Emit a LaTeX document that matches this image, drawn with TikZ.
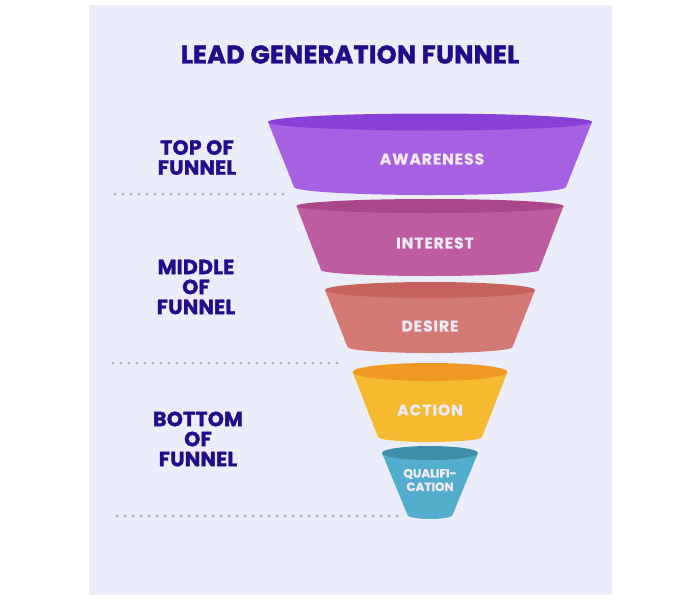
\documentclass[tikz,border=0pt]{standalone}
\usepackage{fontspec}
\usepackage{tikz}
\newfontfamily\headfont{Poppins}[LetterSpace=1,BoldFeatures={FakeBold=1.4}]
\newfontfamily\segfont{Poppins}[LetterSpace=6,BoldFeatures={FakeBold=1}]
\newfontfamily\smallsegfont{Poppins}[LetterSpace=0,BoldFeatures={FakeBold=1}]
\definecolor{panel}{RGB}{235,237,250}
\definecolor{navy}{RGB}{35,12,140}
\definecolor{segtext}{RGB}{242,234,248}
\definecolor{dotgray}{RGB}{172,175,188}
\definecolor{awareA}{RGB}{166,97,226}
\definecolor{awareB}{RGB}{136,64,214}
\definecolor{interA}{RGB}{190,92,160}
\definecolor{interB}{RGB}{170,70,138}
\definecolor{desireA}{RGB}{212,122,116}
\definecolor{desireB}{RGB}{198,98,92}
\definecolor{actionA}{RGB}{246,186,48}
\definecolor{actionB}{RGB}{240,152,36}
\definecolor{qualA}{RGB}{82,174,204}
\definecolor{qualB}{RGB}{62,142,170}

\begin{document}
\begin{tikzpicture}[x=1pt,y=1pt,yscale=-1,
  stage/.style={font=\segfont\bfseries\fontsize{15.5}{17}\selectfont,text=segtext,inner sep=0.75pt,align=center},
  level/.style={font=\headfont\bfseries\fontsize{20.5}{20}\selectfont,text=navy,inner sep=0.75pt,align=center},
  divider/.style={dotgray,line width=3pt,line cap=round,dash pattern=on 0pt off 8pt}]
\useasboundingbox (0,0) rectangle (700,600);
\fill[white] (0,0) rectangle (700,600);
\fill[panel] (89,5) rectangle (612,595);

\fill[awareA] (268,122) -- (294,187) arc[start angle=180,end angle=0,x radius=136,y radius=8] -- (592,122) -- cycle;
\fill[awareB] (430,122) ellipse[x radius=162,y radius=8.5];
\fill[interA] (296.5,206) -- (321,270) arc[start angle=180,end angle=0,x radius=109,y radius=6] -- (563.5,206) -- cycle;
\fill[interB] (430,206) ellipse[x radius=133.5,y radius=7];
\fill[desireA] (325,290) -- (347.5,347) arc[start angle=180,end angle=0,x radius=82.5,y radius=6] -- (535,290) -- cycle;
\fill[desireB] (430,290) ellipse[x radius=105,y radius=8];
\fill[actionA] (352.5,372) -- (378,437) arc[start angle=180,end angle=0,x radius=52,y radius=5] -- (507.5,372) -- cycle;
\fill[actionB] (430,372) ellipse[x radius=77.5,y radius=9];
\fill[qualA] (382,453) -- (407.5,515) arc[start angle=180,end angle=0,x radius=22.5,y radius=4] -- (478,453) -- cycle;
\fill[qualB] (430,453) ellipse[x radius=48,y radius=7];

\draw[divider] (115,194) -- (283,194);
\draw[divider] (113,363) -- (338,363);
\draw[divider] (117,516) -- (398,516);

\node (title) at (350,54.5) [font=\headfont\bfseries\fontsize{25.5}{27}\selectfont,text=navy,inner sep=0.75pt] {LEAD GENERATION FUNNEL};
\node (top) at (197,157.5) [level] {TOP OF\\FUNNEL};
\node (middle) at (196,287) [level] {MIDDLE\\OF\\FUNNEL};
\node (bottom) at (198,439) [level] {BOTTOM\\OF\\FUNNEL};

\node (awareness) at (432,159) [stage] {AWARENESS};
\node (interest) at (435,243) [stage] {INTEREST};
\node (desire) at (430,326) [stage] {DESIRE};
\node (action) at (430,410) [stage] {ACTION};
\node (qualification) at (430,480) [stage,font=\smallsegfont\bfseries\fontsize{12}{13.5}\selectfont] {QUALIFI-\\CATION};
\end{tikzpicture}
\end{document}
